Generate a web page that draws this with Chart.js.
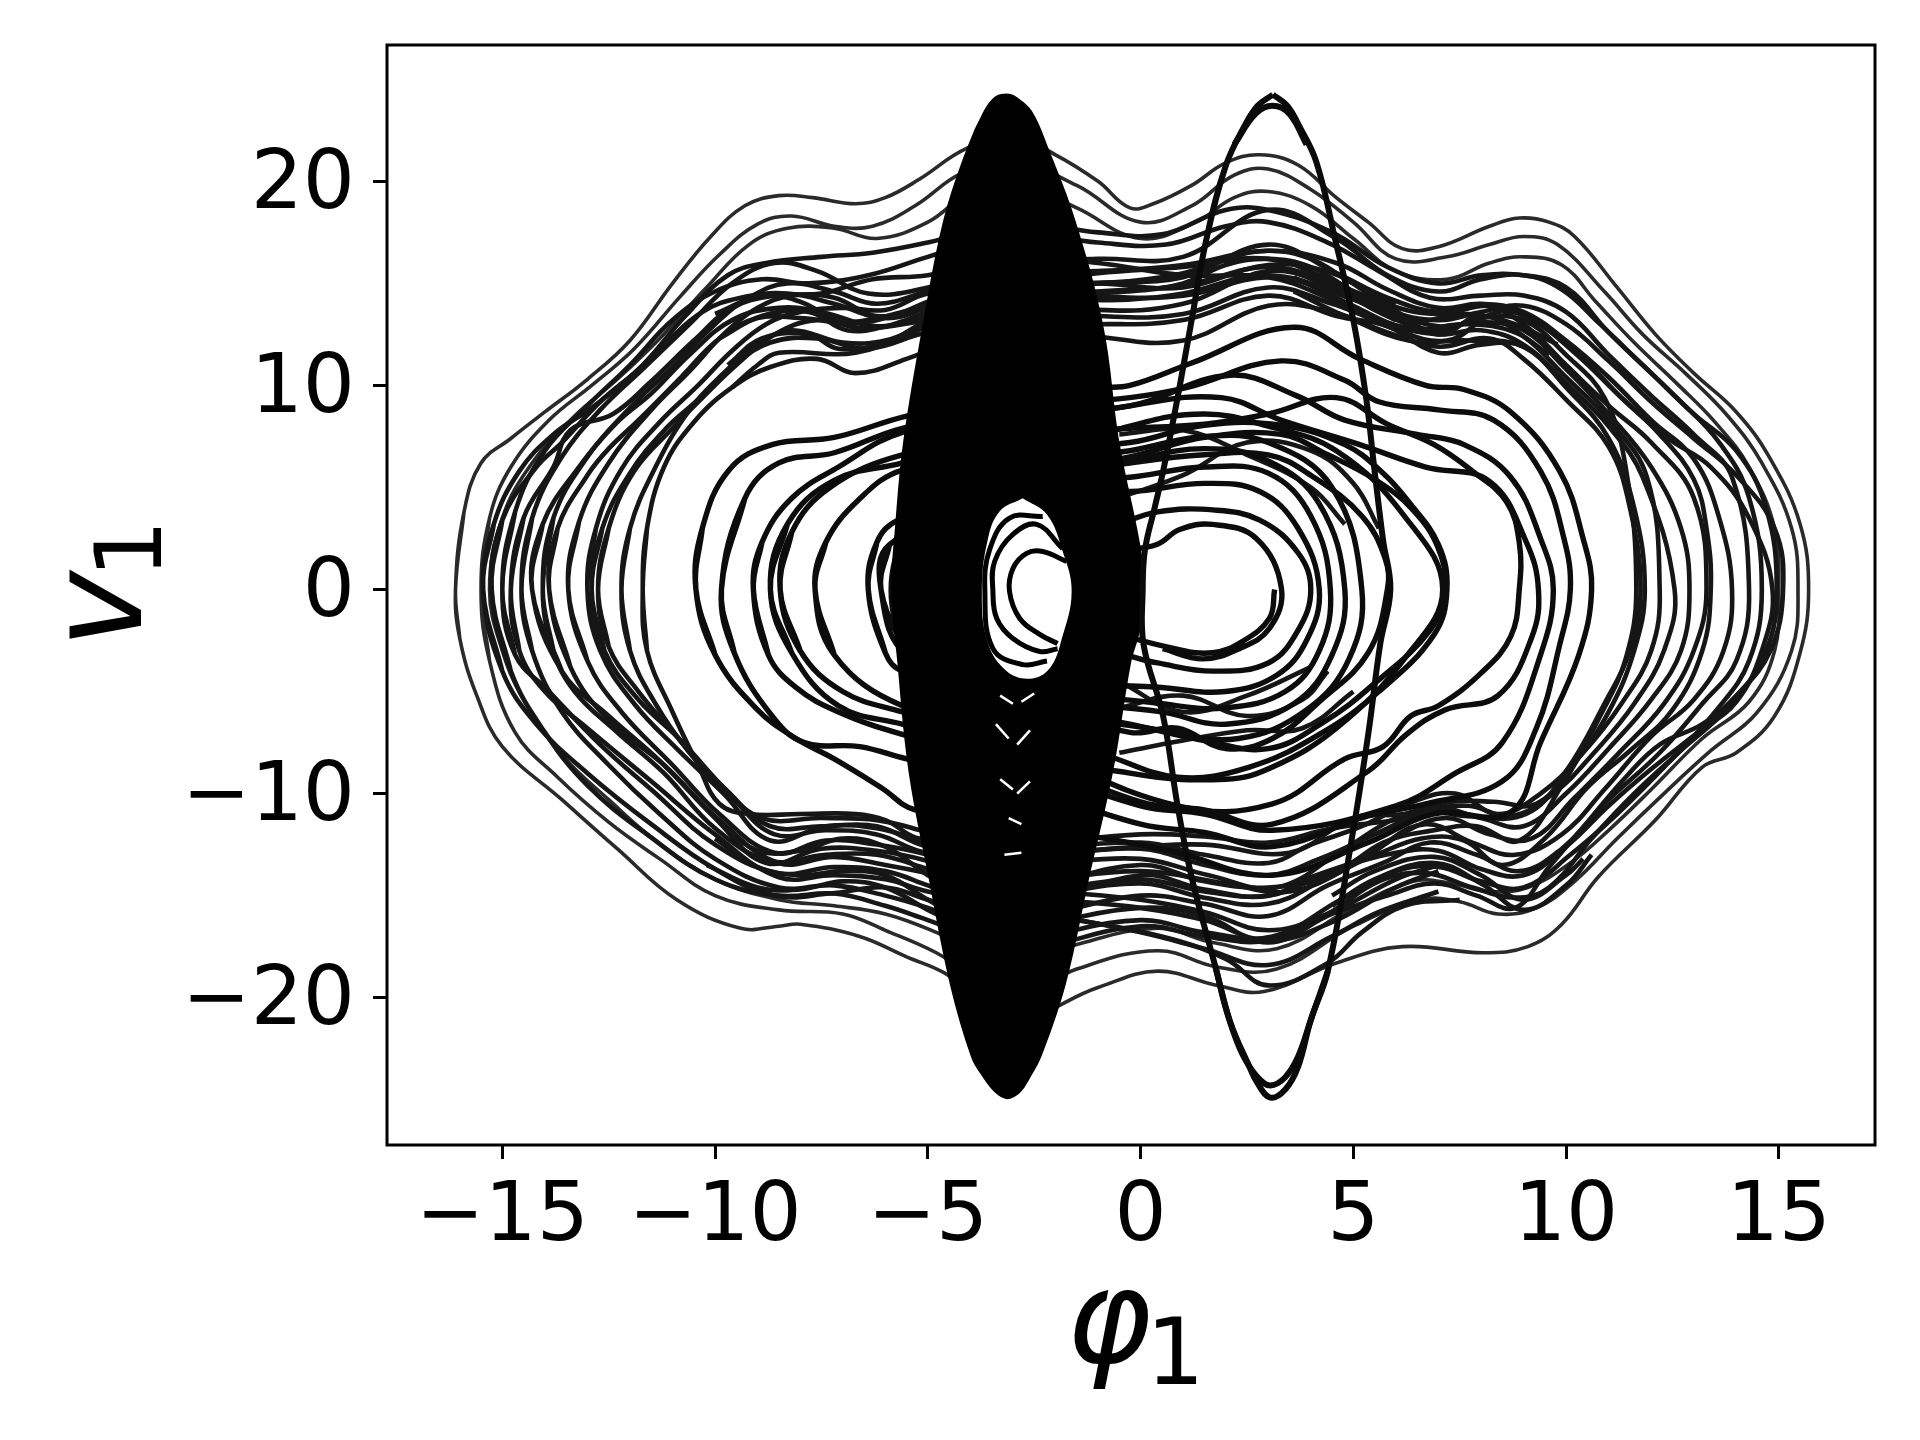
<!DOCTYPE html>
<html>
<head>
<meta charset="utf-8">
<title>phase portrait</title>
<script src="https://cdn.jsdelivr.net/npm/chart.js@4"></script>
<style>
    body { margin: 0; background: #fff; }
    canvas { display: block; }
</style>
</head>
<body>
<canvas id="chart_phase" width="1920" height="1440"></canvas>
<script>
const xTicks = [-15, -10, -5, 0, 5, 10, 15];
const yTicks = [-20, -10, 0, 10, 20];

// thin outer orbits
const a1 = [[-16.1,0],[-15.9,3.8],[-15.5,6.2],[-14.8,7.4],[-14,8.7],[-13,10.3],[-12,12.2],[-11,15],[-10.1,17.3],[-9.3,18.8],[-8.5,19.3],[-7.7,19.2],[-6.7,18.9],[-6,19.2],[-5.2,20.1],[-4.1,21.6],[-3,22.2],[-2,21.3],[-1,20],[-.25,18.7],[.3,18.9],[1.2,19.8],[2,20.9],[2.8,21.3],[3.7,20.8],[4.6,19.2],[5.35,18],[6.15,16.7],[7,16.8],[8.2,17.8],[8.9,18.2],[9.6,18],[10.2,17.3],[11.2,14.8],[12.1,12.5],[13,10.6],[14,8.7],[14.8,6.4],[15.5,3.2],[15.7,0],[15.5,-3.1],[14.9,-6.2],[14,-8],[13.2,-8.7],[12.1,-11.3],[10.75,-14.1],[9.9,-16.4],[9.1,-17.5],[8.05,-17.8],[6.15,-17.5],[4.6,-18.3],[2.9,-19.7],[1.8,-19.4],[.4,-18.7],[-1,-19.5],[-3,-21],[-4.6,-18.8],[-5.5,-18],[-6.6,-17],[-8,-16.4],[-8.5,-16.5],[-9.4,-16.6],[-10.9,-15.2],[-12.3,-12.7],[-13.6,-10.3],[-15,-7.7],[-15.6,-5.2],[-16,-2.4],[-16.1,0]];
const a2 = [[-15.5,0],[-15.3,3.5],[-14.8,6],[-13.9,8.3],[-12.9,10],[-11.9,11.8],[-10.8,14.4],[-9.9,16.4],[-9,17.9],[-8.2,18.3],[-7.2,17.8],[-6.3,17.8],[-5.3,18.8],[-4.2,20.4],[-3,21],[-1.5,19.8],[0,18],[1.2,18.8],[2.2,20.3],[3,20.6],[4,19.6],[5,18],[6,16.2],[7.2,16.3],[8.2,16.9],[9,17.3],[9.8,16.9],[10.9,14.6],[11.8,12.5],[12.8,10.6],[13.8,8.5],[14.6,6.2],[15.3,3],[15.45,0],[15.3,-3],[14.5,-6],[13.4,-7.9],[12.3,-10],[11.2,-12.2],[10.2,-14.3],[9.3,-15.6],[8.4,-15.9],[7.5,-15.3],[6.6,-15.2],[5,-16.5],[3.2,-18.6],[1.8,-18.5],[.4,-17.7],[-1.5,-18.6],[-3,-20],[-4.8,-17.8],[-6,-16.7],[-7,-15.9],[-8.5,-15.7],[-10,-15],[-11.3,-13.2],[-12.5,-11.4],[-13.7,-9.2],[-14.7,-7],[-15.3,-3.5],[-15.5,0]];
const a3 = [[-15.3,0],[-15,3.5],[-14.3,6.2],[-13.3,8.5],[-12.3,10.3],[-11.3,12.3],[-10.2,14.8],[-9.2,16.9],[-8.3,17.7],[-7.2,17.7],[-6.2,17.2],[-5,18],[-4,19.5],[-3,20],[-1.5,18.7],[0,17.2],[1.3,18],[2.2,19.2],[3,19.5],[4,18.8],[5,17.2],[6,15.6],[7.2,15.2],[8.2,16],[9,16.3],[9.9,15.9],[10.7,14.1],[11.6,12.1],[12.6,10.1],[13.5,8.2],[14.3,6],[14.9,3],[15,0],[14.9,-3],[14.3,-5.5],[13.2,-7.3],[12,-9.8],[11,-11.8],[10.1,-13.4],[9.1,-14.6],[8.2,-14.8],[7.3,-14.4],[6.4,-14.3],[4.9,-15.7],[3.2,-17.6],[1.7,-17.3],[.4,-16.6],[-1.5,-17.4],[-3,-18.5],[-4.8,-16.8],[-6,-15.9],[-7.2,-15.5],[-8.5,-15.2],[-10,-14.2],[-11.4,-12.3],[-12.5,-10.3],[-13.6,-8.1],[-14.5,-5.4],[-15,-3],[-15.3,0]];

// dense band
const b1 = [[-14.55,0],[-14.3,3.5],[-13.6,6.5],[-12.7,8.8],[-11.7,10.8],[-10.6,13],[-9.6,15],[-8.6,16],[-7.6,15.6],[-6.4,14.5],[-5,14.8],[-3,16],[-1,16.2],[1,16.3],[3,18.6],[4.6,17.2],[5.8,15.4],[7,14.6],[8,15.2],[9,15.4],[9.9,14.7],[10.8,13],[11.7,11.2],[12.6,9.4],[13.6,7.2],[14.3,4.5],[14.6,0],[14.3,-3.5],[13.5,-6],[12.4,-8.5],[11.2,-11],[10.1,-13],[9,-14.6],[8,-14.3],[7,-13.6],[6,-13.8],[4.7,-15.2],[3.1,-17],[1.5,-16.8],[0,-16.2],[-3,-17],[-5,-15.6],[-6,-15],[-7.2,-14.5],[-8.5,-14.6],[-10,-13.2],[-11.3,-11],[-12.5,-8.6],[-13.6,-6],[-14.3,-3],[-14.55,0]];
const b2 = [[-15,0],[-14.7,3.8],[-14,6.8],[-13,9],[-12,11],[-11,13.2],[-10,14.6],[-8.9,15.2],[-7.8,15],[-6.4,15.4],[-5,16.3],[-3,17.5],[-1,17],[.6,16.9],[2,17.8],[3,18],[4.4,17],[5.6,15.6],[6.8,14.3],[8,14.4],[9,14.4],[10,13.6],[11,11.5],[12,9.5],[13,7.6],[13.9,5.5],[14.3,0],[14,-3.5],[13.2,-5.6],[12.2,-8],[11,-10.3],[9.9,-12.7],[8.9,-13.8],[7.9,-13],[6.8,-12.4],[5.7,-13.4],[4.4,-14.5],[3,-16],[1.5,-15.4],[0,-15],[-3,-16],[-5,-14.5],[-6,-13.8],[-7.2,-13.6],[-8.5,-13.9],[-10,-12.5],[-11.5,-9.8],[-12.7,-7.6],[-13.9,-5],[-14.7,-3.2],[-15,0]];
const b3 = [[-14.05,0],[-13.8,3.5],[-13,6.5],[-12,8.9],[-11,10.9],[-10,13],[-9.2,14.3],[-8.3,15],[-7.2,14.6],[-6.2,14],[-5,14.6],[-3,15.5],[-1,15.6],[1,15.9],[3,16.6],[4.6,16],[5.8,14.7],[7,13.8],[8,14],[9,13.6],[10,12.2],[11,10.4],[12,8.3],[13,6.4],[13.6,3.5],[13.9,0],[13.7,-3],[13,-5.4],[12,-7.2],[10.9,-9.8],[9.9,-12],[8.8,-13],[7.8,-12.4],[6.7,-11.5],[5.6,-12.6],[4.3,-14.2],[3,-15.4],[1.5,-15.1],[0,-14.4],[-3,-15],[-5,-13.7],[-6.2,-13],[-7.4,-13],[-8.7,-13.3],[-10,-11.7],[-11.2,-9],[-12.3,-7],[-13.3,-5],[-13.8,-3],[-14.05,0]];
const b4 = [[-13.45,0],[-13.2,3.3],[-12.5,6.2],[-11.5,8.8],[-10.6,10.7],[-9.8,12.5],[-9,13.8],[-8.2,14.4],[-7.2,14.3],[-6.2,13.4],[-5,13.8],[-3,14.5],[-1,15],[1,15.3],[3,16.9],[4.6,15.5],[5.8,14.3],[7,13.6],[8.1,13.9],[9,13],[10,11],[11,9],[12,7.2],[13,4.5],[13.3,0],[13,-3],[12.3,-5.6],[11.2,-8.1],[10.2,-10.2],[9.2,-12.2],[8.2,-12],[7.2,-11.2],[6.2,-11.9],[5,-13.5],[3.5,-14.8],[2,-14.4],[0,-13.8],[-3,-14.2],[-5,-13],[-6.2,-12.5],[-7.4,-12.3],[-8.6,-12.9],[-9.9,-11],[-11,-8.6],[-12.2,-6],[-13,-3.5],[-13.45,0]];
const b5 = [[-13,0],[-12.8,3],[-12.2,5.9],[-11.3,8.2],[-10.4,10],[-9.6,11.7],[-8.8,13],[-8,13.6],[-7,13.8],[-6,13.7],[-5,14.5],[-3,15],[-1,14.4],[1,14.4],[3,15.3],[4.5,14.6],[5.8,13.6],[7,12.9],[8,13.1],[9,12.7],[10,10.8],[11,8.6],[12,6],[12.7,3],[12.9,0],[12.7,-3],[12,-5.4],[11,-7.8],[10,-10],[9,-11.6],[8,-11.2],[7,-10.7],[6,-11.2],[4.8,-12.7],[3.2,-14.6],[1.6,-14],[0,-13.2],[-3,-13.4],[-5,-12.4],[-6.2,-11.7],[-7.4,-11.6],[-8.7,-12.3],[-9.8,-10],[-10.9,-7.8],[-11.9,-5.6],[-12.7,-3],[-13,0]];
const b6 = [[-12.75,0],[-12.5,3],[-11.9,5.8],[-11,7.9],[-10.2,9.6],[-9.5,11],[-8.6,12.5],[-7.6,13.2],[-6.5,12.8],[-5,13.2],[-3,13.8],[-1,13.4],[1,13.5],[3,14.8],[4.5,14],[5.8,13],[7,12.5],[8,12.7],[9,12],[10,10.1],[11,8],[11.8,5.5],[12.55,0],[12.3,-3],[11.6,-5.6],[10.7,-7.9],[9.7,-10],[8.7,-11.1],[7.7,-10.6],[6.7,-10.9],[5.5,-12],[4.2,-13.2],[3,-14],[1.5,-13.5],[0,-12.7],[-3,-13],[-5,-11.9],[-6.2,-11.3],[-7.5,-11.2],[-8.9,-11.2],[-9.9,-9.5],[-10.9,-7.2],[-11.8,-5],[-12.5,-2.8],[-12.75,0]];
const b7 = [[-11.7,0],[-11.6,3],[-11.2,6],[-10.5,8.2],[-9.6,9.9],[-8.7,10.9],[-7.6,11.3],[-6.7,10.6],[-5.5,11.3],[-3,13.2],[-1,12.4],[1,12.2],[3,13.9],[4.5,13.6],[5.8,12.6],[7,11.9],[8.2,12.3],[9,11.3],[10,9.3],[11,7],[11.5,4],[11.75,0],[11.5,-3],[10.9,-5.6],[10,-8.9],[9.06,-11],[7.6,-11.1],[6.9,-10.9],[6,-11.3],[4.5,-11.7],[3,-12.4],[1.5,-12.1],[0,-12],[-3,-12.5],[-5.2,-12.2],[-6,-11.3],[-6.7,-11],[-8,-11],[-9.2,-11],[-9.9,-10.5],[-10.4,-8.6],[-11,-6],[-11.6,-3],[-11.7,0]];
const b8 = [[-12.2,0],[-12,3],[-11.4,6],[-10.6,8.8],[-9.8,10.6],[-9,12],[-8.2,12.7],[-7,12.1],[-6,12.2],[-5,13],[-3,14.2],[-1,14.6],[1,14.9],[3,15.8],[4.5,15],[5.8,13.9],[7,12.5],[8,13.4],[9,12.4],[10,10.4],[11,8.3],[11.9,5.5],[12.2,0],[12,-3],[11.3,-5.6],[10.4,-8],[9.4,-10],[8.4,-11],[7.4,-10],[6.4,-10.4],[5.2,-11.6],[4,-12.5],[3,-13.4],[1.5,-13],[0,-12.4],[-3,-12.8],[-5,-12.9],[-6.2,-12],[-7.4,-11.8],[-8.6,-12],[-9.6,-10.2],[-10.6,-8],[-11.4,-5.6],[-12,-3],[-12.2,0]];
const b9 = [[-14.8,0],[-14.5,3.5],[-13.8,6],[-13.4,7.8],[-12.4,8.6],[-11.5,10.2],[-10.5,12.2],[-9.6,13.8],[-8.6,14.4],[-7.5,14.5],[-6.3,15.2],[-5,15.4],[-3,16.3],[-1,16],[1,15.4],[3,15.3],[4.5,14.2],[5.8,12.9],[7.2,12.2],[8.4,13.6],[9.4,13],[10.4,11.3],[11.4,9.2],[12.4,7.4],[13.4,6],[14.3,3.5],[14.85,0],[14.6,-3],[14,-5.5],[13.1,-7],[12,-8.8],[11,-10.6],[10,-12.6],[9,-14],[8,-13.7],[7,-12.8],[6,-12.9],[4.6,-13.7],[3,-15],[1.5,-14.7],[0,-14],[-3,-15.6],[-5,-14.8],[-6,-14.2],[-7.2,-14],[-8.5,-14.1],[-10,-12],[-11.5,-9.4],[-13,-6.8],[-14,-5],[-14.6,-3],[-14.8,0]];
const b10 = [[-15.45,0],[-15.2,3.2],[-14.6,5.8],[-13.8,7.6],[-12.9,8.9],[-12,10.4],[-11.2,12],[-10.3,13.6],[-9.4,14.3],[-8.3,14.5],[-7.2,14],[-6,13.3],[-5,13.8],[-3,15],[-1,15.5],[1,15.8],[3,16.2],[4.6,15],[5.8,13.7],[7,13.2],[8,13.6],[9,13.9],[10,13],[11,11.2],[12,9.2],[13,7.4],[14,5.6],[14.9,3],[15.1,0],[14.8,-3],[14,-5.2],[13.2,-6.6],[12.2,-7.6],[11.4,-9.2],[10.5,-11.4],[9.6,-13.6],[8.8,-15.6],[7.9,-15],[6.9,-14.4],[5.8,-15],[4.5,-15.9],[3,-17.3],[1.5,-16],[0,-15.6],[-3,-16.4],[-5,-15.2],[-6,-14.6],[-7.3,-14.9],[-8.6,-15],[-10,-13.7],[-11.5,-11.5],[-13,-9],[-14.2,-6.6],[-15,-4],[-15.45,0]];
const b11 = [[-14.3,0],[-14.05,3.2],[-13.2,6],[-12.3,8.2],[-11.5,9.6],[-10.6,11.5],[-9.6,13.2],[-8.5,13.8],[-7.5,13.6],[-6.2,12.9],[-5,13.4],[-3,14.4],[-1,13.7],[1,14],[3,15.6],[4.5,14.8],[5.8,13.4],[7,12.7],[8,13.3],[9,13.2],[10,11.5],[10.9,9.4],[11.4,6],[11.65,0],[11.4,-3.4],[10.8,-6.2],[9.9,-9.6],[8.9,-12.3],[7.9,-11.6],[6.9,-11.8],[5.7,-12.4],[4.5,-14],[3,-14.6],[1.5,-14.3],[0,-13.5],[-3,-14.6],[-5,-13.3],[-6.2,-12.8],[-7.5,-12.7],[-8.8,-13.4],[-10,-11.2],[-11.3,-8.4],[-12.5,-6.2],[-13.6,-4],[-14.3,0]];
const b12 = [[-12.9,0],[-12.65,3],[-12,5.7],[-11.15,7.9],[-10.4,9.3],[-9.6,10.9],[-8.7,12.1],[-7.6,12.3],[-6.4,11.8],[-5,12.6],[-3,13.1],[-1,13],[1,13.2],[3,14.4],[4.6,13.4],[5.8,12.9],[7,11.6],[8,12],[9,11.9],[10,9.9],[11,7.4],[11.6,4],[11.85,0],[11.6,-3],[11,-6],[10.2,-8.5],[9.3,-10.5],[8.3,-10.4],[7.3,-10.4],[6.2,-11],[5,-11.2],[3.5,-12.9],[1.5,-12.5],[0,-12.6],[-3,-13],[-5,-12.6],[-6.2,-11.6],[-7.5,-11.6],[-8.7,-11.6],[-9.7,-9.9],[-10.8,-7.4],[-11.8,-5.4],[-12.6,-3],[-12.9,0]];
const b13 = [[-13.9,0],[-13.7,3],[-13,5.6],[-12.5,6.9],[-11.8,8.3],[-10.8,10.4],[-9.9,12.3],[-9,13.3],[-8,13.3],[-6.8,13.1],[-5.4,13.7],[-3,14.9],[-1,15],[1,14.8],[3,15.9],[4.5,15.5],[5.8,14],[7,13.5],[8.2,13.9],[9.2,13.2],[10.2,11.6],[11.2,9.6],[12.2,7.6],[13,5.4],[13.3,3],[13.4,0],[13.2,-3],[12.5,-5.9],[11.5,-7.9],[10.5,-9.7],[9.5,-12.2],[8.5,-13.5],[7.6,-12.3],[6.6,-12.2],[5.4,-13.1],[4,-14.1],[3,-15],[1.5,-14.8],[0,-14.2],[-3,-14.8],[-5,-13.9],[-6,-13.5],[-7.2,-13.1],[-8.5,-13.4],[-9.9,-11.3],[-11.2,-8.6],[-12.5,-6.4],[-13.4,-3.8],[-13.9,0]];
const b14 = [[-15.25,0],[-15,3.4],[-14.2,6],[-13.6,7.2],[-12.7,9.2],[-11.7,11],[-10.7,13.4],[-9.7,15.4],[-8.8,16],[-7.5,16.3],[-6.3,16.5],[-5,17],[-3,18],[-1,17.5],[.5,17.4],[2,18.6],[3,18.6],[4.5,17.5],[5.8,15.8],[7,15],[8,15.4],[9,15.4],[10,14.8],[11,12.6],[12,10.6],[13,8.6],[14,6.8],[14.7,4],[14.95,0],[14.7,-3],[13.8,-5.8],[12.8,-7.7],[11.6,-10],[10.6,-12.2],[9.6,-14.6],[8.8,-15.1],[7.8,-14.6],[6.7,-13.9],[5.6,-14.3],[4.4,-15.9],[3,-17.2],[1.5,-17],[0,-16.5],[-3,-17.6],[-5,-16.2],[-6,-15.5],[-7.2,-14.9],[-8.5,-15],[-10,-14.2],[-11.6,-12],[-13,-9.6],[-14,-7],[-14.8,-4],[-15.25,0]];

// short stretches where the band is darkest
const patches = [
    [[-10,13.5],[-8.9,14.4],[-8,14.1],[-7,13.1],[-6,13.3],[-5,14.1],[-4.4,14.6]],
    [[-9.9,12.3],[-8.9,13.4],[-7.8,13.6],[-6.9,12.7],[-6,12.9],[-5,13.6],[-4.4,14]],
    [[-9.7,11],[-8.9,12.3],[-7.8,12.5],[-7.1,11.8],[-6,12.1],[-5,13.2],[-4.4,13.6]],
    [[-9.6,9.9],[-9,11],[-8.5,11.6],[-6.7,11.6],[-5,12.9],[-4.4,13.3]],
    [[-1.5,15],[-.3,15.1],[1,15.5],[2,16.2],[3,16.6],[4,16.2],[5,15],[6,14]],
    [[-1.5,14.6],[-.3,14.6],[1,15],[2,15.9],[3,16.2],[4,15.8],[5,14.6],[6,13.6]],
    [[-1.5,14.2],[-.3,14.2],[1,14.5],[3,15.4],[5,14.2],[6,13.2]],
    [[3.6,16],[4.8,14.6],[6.3,13.2],[7.7,13.5],[8.8,13],[9.8,12]],
    [[3.6,15.3],[4.8,14.1],[6.3,12.8],[7.7,13],[8.8,12.6],[9.6,11.5]],
    [[3.6,14.6],[4.8,13.4],[6.3,12.2],[7.7,12.2],[9,11.9],[10,10]],
    [[-2,-15.2],[0,-15.6],[1.5,-16.2],[3,-17.2],[4.5,-16.3],[6,-14.6],[7,-13.8]],
    [[-2,-14.8],[0,-15.2],[1.5,-15.8],[3,-16.7],[4.5,-15.8],[6,-14.2],[7,-13.5]],
    [[-2,-16],[0,-16.8],[1.5,-17.6],[3,-18.4],[4.5,-17],[5.6,-15.8],[7,-14.8]],
    [[-2,-16],[.5,-17],[2,-18.1],[3,-19.4],[4.4,-18.3],[5.2,-16.8],[6.2,-15.5],[7.5,-15.2]],
    [[4.5,-15.5],[5.5,-14.2],[6.9,-13.4],[8,-14.4],[9,-15.7],[10,-14.5],[10.6,-13]],
    [[4.5,-15],[5.5,-13.8],[6.9,-13.1],[8,-14],[9,-15.2],[10,-14],[10.4,-13.2]],
    [[-10,-12.2],[-9,-13.6],[-8,-14],[-7,-13.8],[-6,-14],[-5,-15.2],[-4.5,-15.8]],
    [[-10.2,-13.5],[-9,-14.6],[-8,-14.7],[-7,-14.3],[-6,-14.6],[-5,-15.7],[-4.5,-16.2]],
    [[-9.9,-11.4],[-9,-12.8],[-8,-12.8],[-7,-12.2],[-6,-12.6],[-5,-14],[-4.5,-14.5]],
    [[-.5,7.6],[1,7.8],[2.5,6.6],[4,5],[4.8,3.2]],
    [[-.5,4.5],[1,5.6],[2.5,7.2],[4,6.8],[5,5.2],[5.6,3]],
    [[-.5,-5.8],[1,-5.2],[2.5,-6.2],[3.8,-5.4],[4.4,-4]],
    [[-.5,-4.5],[1,-6],[2.5,-5.2],[4,-3.8]],
    [[-.5,-8],[1,-7.4],[2.5,-6.9],[3.8,-6.8],[5,-5]]
];

// middle orbits
const c1 = [[-10.45,0],[-10.3,3],[-9.67,5.86],[-8.66,7.1],[-7.2,7.45],[-5.5,8.5],[-3,9.5],[-1,9.9],[-.25,10],[1.2,11.1],[3.6,12.85],[5.15,11.3],[6.7,10],[7.6,9.8],[8.7,8.7],[9.85,5.8],[10.4,2.5],[10.6,0],[10.3,-3.2],[9.4,-7.5],[8.7,-10.9],[6.9,-11],[5.35,-12.4],[3.1,-14],[.87,-12.9],[-.25,-12.4],[-3,-11.5],[-5.3,-10.8],[-6.1,-9.7],[-7.2,-8.3],[-8.1,-7.3],[-9,-5.9],[-10,-3.2],[-10.45,0]];
const c2 = [[-9.85,0],[-9.3,4.47],[-8.5,6.2],[-7.2,6.7],[-5.6,7.9],[-3,8.9],[-.25,9.4],[1.1,9.9],[3.3,11.2],[4.8,10.25],[5.6,9.2],[7,8.8],[8.3,8.3],[9.4,5.8],[9.95,2.5],[10.1,0],[9.85,-2.7],[9.3,-6.8],[8.5,-9.4],[6.7,-10.5],[5.35,-11.1],[3.1,-12.6],[1.5,-11.9],[0,-11.5],[-3,-9.5],[-5.5,-8.3],[-6.6,-7.7],[-7.9,-7.5],[-8.66,-6.2],[-9.55,-3.1],[-9.85,0]];
const c3 = [[-9.1,0],[-8.9,2.3],[-8.2,4.47],[-7.1,6],[-5.6,7.7],[-3,8.6],[-.25,9],[2.1,10.5],[3.66,9.5],[4.8,8.3],[6.5,7.6],[7.6,7.1],[8.7,5.5],[9.4,2.5],[9.7,0],[9.4,-3.2],[8.5,-7.5],[7.4,-9],[6,-10.6],[3.1,-11.8],[1.5,-11],[0,-10.6],[-3,-8.5],[-5.6,-7.1],[-7.1,-6],[-8.1,-4.8],[-8.75,-3.2],[-9.1,0]];
const c4 = [[-8.7,0],[-8.3,3.2],[-7.2,5.35],[-5.6,6.2],[-3,7.8],[-.25,9],[1.9,9.4],[3.3,8.3],[5.15,7.1],[6.7,6],[8.2,5.3],[9.06,2.35],[9.35,0],[9.2,-2.3],[8.4,-5.2],[7.15,-5.9],[6.25,-7.1],[5.35,-8.9],[3.1,-11.5],[1.5,-10.8],[0,-10.4],[-3,-8],[-5.6,-6.6],[-7.1,-5.7],[-8.2,-3.1],[-8.7,0]];
const c5 = [[-8.47,0],[-8.2,2.8],[-7.3,5],[-5.6,6.6],[-3,7.5],[-.25,7.9],[1.5,8.1],[3,8.6],[4.6,9.4],[5.8,8.1],[6.9,7.1],[7.8,5.8],[8.6,4.3],[8.9,2.3],[8.9,0],[8.7,-2.3],[8,-4.1],[7,-5.7],[6.35,-6.2],[5.7,-7.7],[4.8,-8.3],[3.1,-10.5],[.87,-10.6],[-3,-7.5],[-5.6,-6],[-7,-5],[-8,-3],[-8.47,0]];
const c6 = [[-7.65,0],[-7.4,2.3],[-6.6,4.45],[-5.6,5.85],[-3,6.8],[-.25,7.2],[1.5,8.05],[3.3,8.05],[4.8,7.1],[5.7,5.7],[6.3,4.3],[7,2.2],[7.2,0],[6.9,-2.2],[5.6,-5],[4.2,-7.1],[2.56,-8.7],[.87,-9.2],[-1,-8],[-3,-7],[-5.6,-5.7],[-7.2,-3.2],[-7.65,0]];
const c7 = [[-6.4,0],[-6.2,2.3],[-5.7,3.4],[-3,5.5],[-.25,6.5],[1.5,7.45],[3.3,7.6],[4.4,6.6],[5.5,5.4],[6.4,3.9],[7,2],[7.15,0],[6.8,-2],[5.5,-4.6],[4.3,-6.5],[3,-7.8],[1.5,-7.4],[-.25,-6.6],[-3,-5.5],[-5.6,-4],[-6,-3.1],[-6.4,0]];
const c8 = [[-6.1,0],[-5.9,2.2],[-3,5.3],[-.25,6.2],[1.5,6.6],[3,6.6],[4,5.6],[5.2,3.6],[5.75,1.5],[5.8,0],[5.35,-3.1],[4.2,-5.5],[3.1,-7.3],[2,-7.8],[.87,-6.8],[-.25,-7],[-3,-5.3],[-5.5,-3.2],[-6.1,0]];
const c9 = [[-5.5,2],[-3,6],[-.25,8],[1.5,8.6],[3,8],[4.6,6.8],[6.2,3.6],[7.1,0],[6.2,-3.4],[4.6,-6.8],[3.1,-8.7],[2,-9.3],[-.25,-9],[-3,-7.5],[-5.5,-2],[-5.5,2]];

// rings around the right centre
const d1 = [[3.15,0],[3.03,-1.4],[2.39,-2.55],[1.69,-3.1],[.8,-2.9],[-.8,-2],[-2,-1],[-.8,1.6],[.38,2.2],[.92,2.94],[1.69,3.19],[2.72,2.5],[3.31,.05],[3.03,-1.9],[2.32,-2.9],[1.46,-3.4],[.52,-2.9]];
const d2 = [[-5.5,1],[-3,3.5],[-1,3],[.4,3.8],[1.7,3.9],[2.8,3.4],[3.7,1.8],[4,0],[3.7,-2],[3,-3.6],[1.7,-4],[.4,-3.6],[-1,-3],[-3,-3.5],[-5.5,-1],[-5.5,1]];
const d3 = [[-5.5,1.5],[-3,5],[-.25,4.8],[1.5,5.2],[2.8,4.8],[3.7,3],[4.2,0],[3.9,-2.5],[3.2,-4.2],[2,-5],[.5,-4.8],[-3,-4.2],[-5.5,-1.5],[-5.5,1.5]];
const d4 = [[-5.5,2],[-3,5],[-.25,5.5],[1.5,6],[3,5.7],[4,3.6],[4.46,0],[4.2,-3],[3.4,-5],[2,-5.8],[.5,-5.6],[-3,-4.5],[-5.5,-2],[-5.5,2]];
const d5 = [[-5.5,2.4],[-3,5],[-.25,6.3],[1.5,6.9],[3,6.3],[4.2,4.2],[4.8,0],[4.5,-3.2],[3.6,-5.6],[2,-6.6],[.5,-6],[-3,-5],[-5.5,-2.4],[-5.5,2.4]];
const d6 = [[-5.5,2.8],[-3,6],[-.25,6.8],[1.5,7.5],[3,7.2],[4.5,5],[5.2,0],[4.9,-3.4],[3.9,-5.9],[2.3,-7.3],[.5,-6.9],[-3,-5.5],[-5.5,-2.8],[-5.5,2.8]];

// narrow loop on the right, doubled near its two tips
const ellipse = [[3.11,24.25],[3.45,23.7],[3.73,22.7],[4.13,20.95],[4.58,17.1],[5,13.2],[5.3,9.4],[5.5,5.8],[5.7,2.4],[5.87,0],[5.63,-2.7],[5.35,-7.1],[4.95,-12.4],[4.4,-18.7],[4,-21.1],[3.7,-23.4],[3.4,-24.5],[3.05,-24.9],[2.75,-24.2],[2.56,-23.4],[2.09,-21.1],[1.76,-18.5],[1.2,-14.1],[.87,-10.6],[.53,-6.2],[.07,-2.7],[.05,0],[.1,1.9],[.33,4],[.53,5.8],[.87,9.4],[1.2,13.2],[1.54,17.1],[2,20.75],[2.44,22.7],[2.75,23.7],[3.11,24.25]];
const ellipseLow = [[4.4,-18.7],[4,-21.1],[3.7,-22.9],[3.4,-23.9],[3.05,-24.3],[2.75,-23.9],[2.4,-22.8],[2.09,-21.1],[1.76,-18.5]];
const ellipseHigh = [[2.2,21.8],[2.7,23.3],[3.1,23.7],[3.5,23.3],[3.9,21.8]];

// dense lens and its centre gap
const lens = [[-3.14,24.25],[-2.95,24.1],[-2.58,23.4],[-2.2,21.6],[-1.57,18.1],[-.9,12.8],[-.54,7.3],[-.02,1.9],[.05,0],[-.05,-2],[-.26,-3.6],[-.68,-8.9],[-1.24,-14.1],[-1.8,-19.4],[-2.37,-22.9],[-2.6,-23.8],[-2.85,-24.6],[-3.14,-24.9],[-3.4,-24.6],[-3.7,-23.8],[-3.95,-22.9],[-4.44,-19.4],[-4.95,-14.1],[-5.42,-8.9],[-5.68,-3.6],[-5.82,0],[-5.73,3.2],[-5.54,7.3],[-5.1,12.8],[-4.6,18.1],[-4.05,21.6],[-3.66,23.4],[-3.4,24.1],[-3.14,24.25]];
const gap = [[-2.77,4.47],[-2.2,3.67],[-1.83,1.86],[-1.62,-.1],[-1.85,-2.4],[-2.14,-3.87],[-2.6,-4.37],[-3.15,-4],[-3.6,-2.55],[-3.73,-.1],[-3.6,2.36],[-3.31,3.83],[-2.77,4.47]];
const gapLine1 = [[-1.74,1.37],[-2.3,1.86],[-2.68,1.77],[-3,1.03],[-3.08,-.1],[-2.84,-1.42],[-2.37,-2.2],[-1.95,-2.65]];
const gapLine2 = [[-1.83,2],[-2.44,3.19],[-3,2.7],[-3.43,1.37],[-3.47,-.1],[-3.38,-1.42],[-3,-2.4],[-2.37,-3.04],[-1.95,-2.9]];
const gapLine3 = [[-2.3,3.58],[-3.08,3.5],[-3.54,2],[-3.66,0],[-3.47,-2.9],[-2.77,-3.68],[-2.2,-3.5]];
const slits = [
    [[-3.4,-6.6],[-3.1,-7.3]], [[-2.9,-7.6],[-2.6,-6.9]], [[-3.3,-9.3],[-3,-9.8]], [[-2.9,-10],[-2.6,-9.4]],
    [[-3.1,-11.2],[-2.8,-11.5]], [[-3.2,-13],[-2.8,-12.9]], [[-3.3,-5.2],[-3,-5.6]], [[-2.8,-5.5],[-2.5,-5.1]]
];

const thinOrbits = [a1, a2, a3];
const bandOrbits = [b1, b2, b3, b4, b5, b6, b7, b8, b9, b10, b11, b12, b13, b14];
const innerOrbits = [c1, c2, c3, c4, c5, c6, c7, c8, c9, d2, d3, d4, d5, d6];

const toPoints = (pairs) => pairs.map((p) => ({ x: p[0], y: p[1] }));

// ring: repeat the neighbours over the seam so the spline has no corner there
const toRing = (pairs) => toPoints([pairs[pairs.length - 2], ...pairs, pairs[1]]);

const lineSet = (data, color, width, extra) => Object.assign({
    data,
    borderColor: color,
    borderWidth: width,
    showLine: true,
    tension: 0.4,
    pointRadius: 0,
    fill: false,
}, extra || {});

// first dataset is painted last
const datasets = [];
[gapLine1, gapLine2, gapLine3].forEach((l) => datasets.push(lineSet(toPoints(l), "#000", 5)));
datasets.push(lineSet(toPoints(gap), "#fff", 0, { fill: "shape", backgroundColor: "#fff" }));
slits.forEach((s) => datasets.push(lineSet(toPoints(s), "#fff", 2.5, { tension: 0 })));
datasets.push(lineSet(toPoints(ellipse), "#0a0a0a", 6));
datasets.push(lineSet(toPoints(ellipseLow), "#0a0a0a", 6));
datasets.push(lineSet(toPoints(ellipseHigh), "#0a0a0a", 6));
datasets.push(lineSet(toPoints(lens), "#000", 3, { fill: "shape", backgroundColor: "#000" }));
datasets.push(lineSet(toPoints(d1), "#0c0c0c", 5.4));
innerOrbits.forEach((o) => datasets.push(lineSet(toRing(o), "#0c0c0c", 5.4)));
patches.forEach((p) => datasets.push(lineSet(toPoints(p), "#161616", 4.6)));
bandOrbits.forEach((o) => datasets.push(lineSet(toRing(o), "#161616", 4.6)));
thinOrbits.forEach((o) => datasets.push(lineSet(toRing(o), "#2a2a2a", 3.6)));

const minusLabel = (v) => String(v).replace("-", "\u2212");

const frameAndTitles = {
    id: "frameAndTitles",
    afterDraw(chart) {
        const { ctx, chartArea: a } = chart;
        ctx.save();
        ctx.strokeStyle = "#000";
        ctx.lineWidth = 3;
        ctx.strokeRect(a.left, a.top, a.right - a.left, a.bottom - a.top);
        ctx.fillStyle = "#000";
        ctx.textBaseline = "alphabetic";
        ctx.textAlign = "left";

        ctx.font = "italic 130px 'DejaVu Sans'";
        ctx.fillText("\u03c6", 1066, 1362);
        ctx.font = "92px 'DejaVu Sans'";
        ctx.fillText("1", 1146, 1384);

        ctx.translate(141, 0);
        ctx.rotate(-Math.PI / 2);
        ctx.font = "italic 130px 'DejaVu Sans'";
        ctx.fillText("v", -648, 0);
        ctx.font = "92px 'DejaVu Sans'";
        ctx.fillText("1", -578, 20);
        ctx.restore();
    },
};

new Chart(document.getElementById("chart_phase"), {
    type: "scatter",
    data: { datasets },
    plugins: [frameAndTitles],
    options: {
        responsive: false,
        animation: false,
        layout: { padding: { top: 45, right: 45, bottom: 0, left: 0 } },
        plugins: { legend: { display: false }, tooltip: { enabled: false } },
        scales: {
            x: {
                type: "linear",
                min: -17.71,
                max: 17.26,
                afterFit: (s) => { s.height = 295; },
                afterBuildTicks: (s) => { s.ticks = xTicks.map((v) => ({ value: v })); },
                grid: { drawOnChartArea: false, tickLength: 14, tickWidth: 3, tickColor: "#000" },
                border: { display: false },
                ticks: { color: "#000", padding: 11, maxRotation: 0, autoSkip: false, font: { family: "DejaVu Sans", size: 82 }, callback: minusLabel },
            },
            y: {
                type: "linear",
                min: -27.22,
                max: 26.68,
                afterFit: (s) => { s.width = 387; s.paddingTop = 0; s.paddingBottom = 0; },
                afterBuildTicks: (s) => { s.ticks = yTicks.map((v) => ({ value: v })); },
                grid: { drawOnChartArea: false, tickLength: 14, tickWidth: 3, tickColor: "#000" },
                border: { display: false },
                ticks: { color: "#000", padding: 18, labelOffset: 5, autoSkip: false, font: { family: "DejaVu Sans", size: 82 }, callback: minusLabel },
            },
        },
    },
});
</script>
</body>
</html>
